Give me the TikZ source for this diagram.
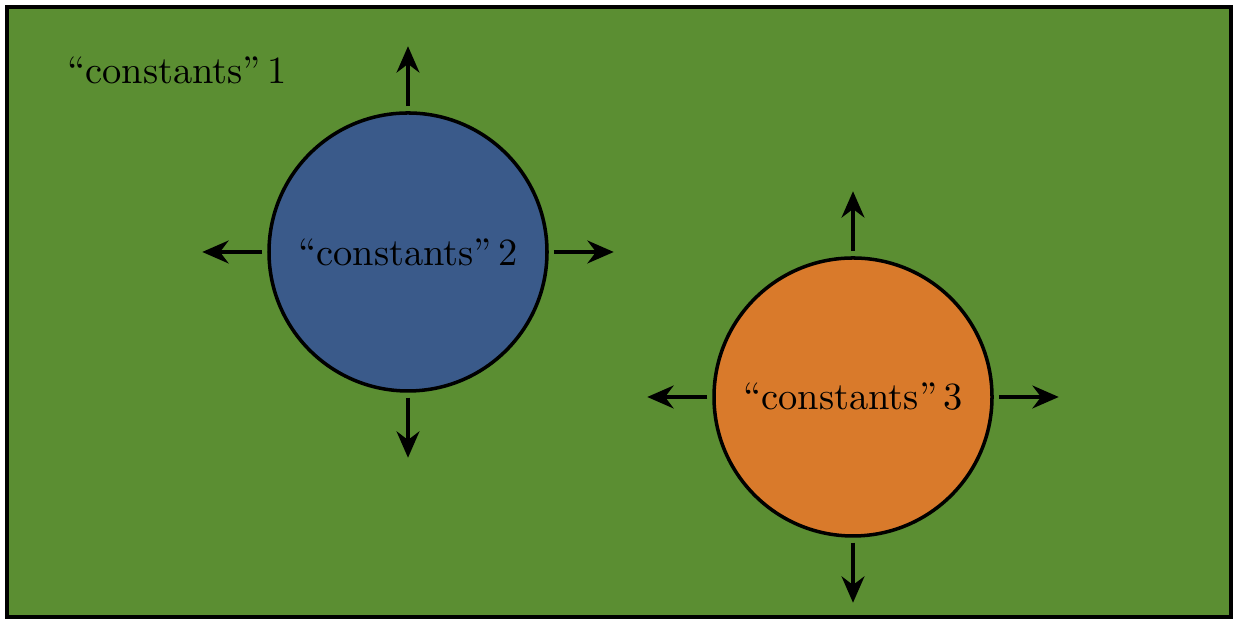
\documentclass[tikz,border=0pt]{standalone}
\usetikzlibrary{arrows.meta}
\definecolor{fieldgreen}{RGB}{91,142,50}
\definecolor{bubbleblue}{RGB}{58,90,138}
\definecolor{bubbleorange}{RGB}{217,122,43}
\begin{document}
\begin{tikzpicture}[font=\fontsize{10.95}{13.6}\selectfont]
\useasboundingbox (0,0) rectangle (12.33,6.19);
\draw[line width=1pt, fill=fieldgreen] (0.07,0.02) rectangle (12.31,6.12);
\node (lab1) at (1.77,5.49){``constants''\,1};
\node[circle, draw, line width=1pt, fill=bubbleblue, minimum size=2.78cm, inner sep=0pt] (c2) at (4.08,3.67){``constants''\,2};
\node[circle, draw, line width=1pt, fill=bubbleorange, minimum size=2.78cm, inner sep=0pt] (c3) at (8.53,2.22){``constants''\,3};
\foreach \c in {c2,c3}
  \foreach \ang in {0,90,180,270}
    \draw[line width=1pt, -{Stealth[length=7.5pt, width=6.5pt]}] (\c.\ang) ++(\ang:0.05) -- ++(\ang:0.6);
\end{tikzpicture}
\end{document}
